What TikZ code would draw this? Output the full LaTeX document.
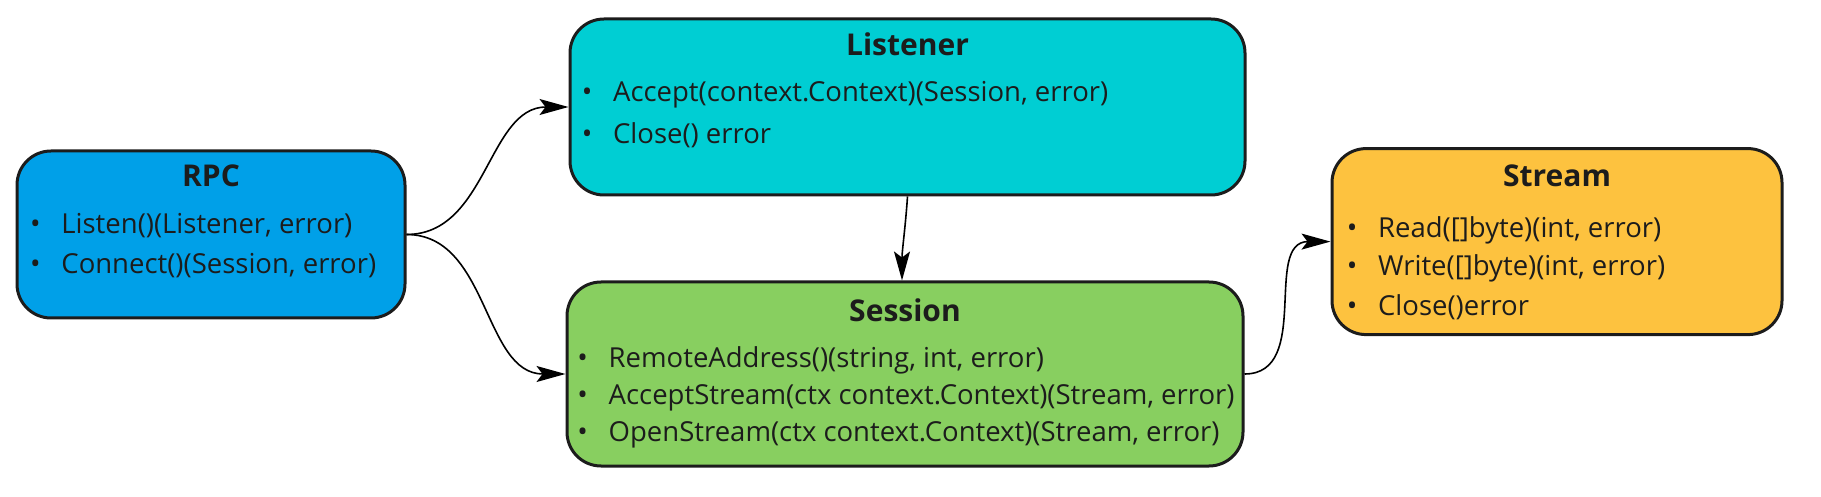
\documentclass[tikz,border=0pt]{standalone}
\usepackage{fontspec}
\setmainfont{Open Sans}
\usepackage{tikz}
\usetikzlibrary{arrows.meta,calc}
\definecolor{rpcblue}{RGB}{0,160,232}
\definecolor{liscyan}{RGB}{0,206,211}
\definecolor{sesgreen}{RGB}{136,207,96}
\definecolor{stryellow}{RGB}{253,194,63}
\definecolor{ink}{RGB}{28,28,28}
\newcommand{\bul}{\makebox[0pt]{\fontsize{14}{14}\selectfont\textbullet}\hspace{13pt}}
\tikzset{
  box/.style={draw=ink,line width=1.5pt,rounded corners=17pt,inner sep=0pt},
  ttl/.style={font=\fontsize{15}{18}\selectfont\bfseries,text=ink,anchor=base,inner sep=0pt},
  itm/.style={font=\fontsize{13.75}{16}\selectfont,text=ink,anchor=base west,inner sep=0pt},
  arr/.style={-{Stealth[length=14.5pt,width=8pt,inset=3pt]},line width=0.8pt,black}
}
\begin{document}
\begin{tikzpicture}[x=0.5pt,y=-0.5pt]
\useasboundingbox (0,0) rectangle (1821,497);
% boxes
\node[box,fill=rpcblue,minimum width=194pt,minimum height=83.5pt](rpc)at(211,234.5){};
\node[box,fill=liscyan,minimum width=337.5pt,minimum height=88pt](lis)at(907.5,107){};
\node[box,fill=sesgreen,minimum width=338pt,minimum height=92pt](ses)at(905,374){};
\node[box,fill=stryellow,minimum width=225pt,minimum height=93pt](str)at(1557,241.6){};
% RPC
\node[ttl](rpc-t)at(211,186.7){RPC};
\node[itm](rpc-1)at(35,234){\bul Listen()(Listener, error)};
\node[itm](rpc-2)at(35,273.3){\bul Connect()(Session, error)};
% Listener
\node[ttl](lis-t)at(907.5,56){Listener};
\node[itm](lis-1)at(586.7,101.7){\bul Accept(context.Context)(Session, error)};
\node[itm](lis-2)at(586.7,143.5){\bul Close() error};
% Session
\node[ttl](ses-t)at(905,321.7){Session};
\node[itm](ses-1)at(582.3,367.3){\bul RemoteAddress()(string, int, error)};
\node[itm](ses-2)at(582.3,404.3){\bul AcceptStream(ctx context.Context)(Stream, error)};
\node[itm](ses-3)at(582.3,441.7){\bul OpenStream(ctx context.Context)(Stream, error)};
% Stream
\node[ttl](str-t)at(1557,186.7){Stream};
\node[itm](str-1)at(1351.7,237.3){\bul Read([]byte)(int, error)};
\node[itm](str-2)at(1351.7,276){\bul Write([]byte)(int, error)};
\node[itm](str-3)at(1351.7,315){\bul Close()error};
% connectors
\draw[arr](rpc.east)to[out=0,in=180](lis.west);
\draw[arr](rpc.east)to[out=0,in=180](ses.west);
\draw[arr](lis.south)..controls +(-2,30) and +(0,-30)..([xshift=-1.5pt]ses.north);
\draw[arr](ses.east)to[out=0,in=180,looseness=1.1](str.west);
\end{tikzpicture}
\end{document}
